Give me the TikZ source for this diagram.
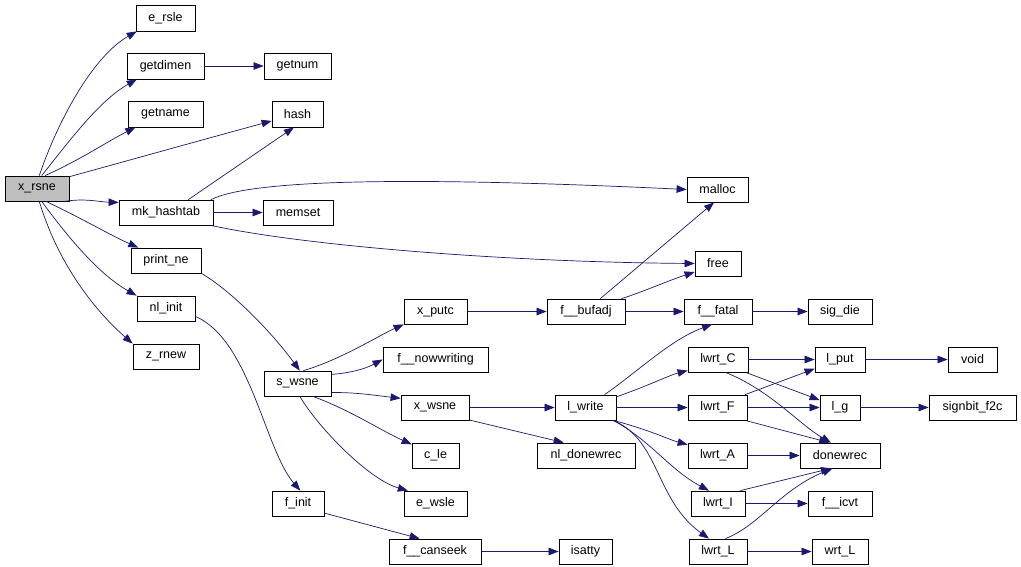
\documentclass[tikz,border=0pt]{standalone}
\usepackage{fontspec}
\setmainfont{Liberation Sans}
\usetikzlibrary{arrows.meta}
\definecolor{edgec}{RGB}{25,25,112}
\definecolor{rootfill}{RGB}{191,191,191}
\tikzset{
  box/.style={draw=black, line width=0.8pt, fill=white, inner sep=0pt, font=\fontsize{12.5}{14}\selectfont},
  e/.style={draw=edgec, line width=0.7pt, -{Triangle[length=10pt,width=7.5pt]}},
}
\newcommand\gnode[7][]{\node[box,#1,minimum width={#5-#3},minimum height={#6-#4}] (#2) at ({(#3+#5)/2},{(#4+#6)/2}) {#7};}
\begin{document}
\begin{tikzpicture}[x=1pt,y=-1pt]
\useasboundingbox (0,0) rectangle (1021,567);
\fill[white] (0,0) rectangle (1021,567);
\gnode[fill=rootfill]{x_rsne}{5}{176}{69}{201}{x\_rsne}
\gnode{e_rsle}{136}{5}{195}{31}{e\_rsle}
\gnode{getdimen}{127}{53}{204}{79}{getdimen}
\gnode{getnum}{264}{53}{331}{79}{getnum}
\gnode{getname}{128}{101}{203}{127}{getname}
\gnode{hash}{272}{101}{323}{127}{hash}
\gnode{mk_hashtab}{119}{200}{213}{225}{mk\_hashtab}
\gnode{memset}{263}{200}{333}{225}{memset}
\gnode{malloc}{687}{177}{748}{202}{malloc}
\gnode{free}{695}{251}{741}{276}{free}
\gnode{print_ne}{131}{248}{201}{273}{print\_ne}
\gnode{nl_init}{137}{296}{195}{321}{nl\_init}
\gnode{z_rnew}{133}{344}{199}{369}{z\_rnew}
\gnode{x_putc}{404}{299}{467}{324}{x\_putc}
\gnode{f__nowwriting}{383}{347}{488}{372}{f\_\_nowwriting}
\gnode{s_wsne}{264}{371}{331}{396}{s\_wsne}
\gnode{x_wsne}{401}{395}{469}{420}{x\_wsne}
\gnode{c_le}{412}{443}{459}{468}{c\_le}
\gnode{f_init}{272}{491}{324}{516}{f\_init}
\gnode{e_wsle}{404}{491}{467}{516}{e\_wsle}
\gnode{f__canseek}{389}{539}{481}{564}{f\_\_canseek}
\gnode{f__bufadj}{547}{299}{625}{324}{f\_\_bufadj}
\gnode{f__fatal}{684}{299}{752}{324}{f\_\_fatal}
\gnode{sig_die}{808}{299}{872}{324}{sig\_die}
\gnode{lwrt_C}{688}{347}{748}{372}{lwrt\_C}
\gnode{l_put}{815}{347}{865}{372}{l\_put}
\gnode{void}{948}{347}{997}{372}{void}
\gnode{l_write}{555}{395}{616}{420}{l\_write}
\gnode{lwrt_F}{688}{395}{747}{420}{lwrt\_F}
\gnode{l_g}{820}{395}{860}{420}{l\_g}
\gnode{signbit_f2c}{929}{395}{1016}{420}{signbit\_f2c}
\gnode{nl_donewrec}{537}{443}{635}{468}{nl\_donewrec}
\gnode{lwrt_A}{688}{443}{747}{468}{lwrt\_A}
\gnode{donewrec}{800}{443}{880}{468}{donewrec}
\gnode{lwrt_I}{691}{491}{745}{516}{lwrt\_I}
\gnode{f__icvt}{808}{491}{872}{516}{f\_\_icvt}
\gnode{isatty}{559}{539}{612}{564}{isatty}
\gnode{lwrt_L}{689}{539}{747}{564}{lwrt\_L}
\gnode{wrt_L}{812}{539}{868}{564}{wrt\_L}

% x_rsne fan
\draw[e] (x_rsne.80) .. controls (60,115) and (95,55) .. (e_rsle.205);
\draw[e] (x_rsne.70) .. controls (70,140) and (100,100) .. (getdimen.205);
\draw[e] (x_rsne.58) .. controls (80,160) and (110,140) .. (getname.204);
\draw[e] (x_rsne.20) .. controls (130,160) and (220,135) .. (hash.195);
\draw[e] (x_rsne.-25) .. controls (85,198) and (100,202) .. (mk_hashtab.168);
\draw[e] (x_rsne.-55) .. controls (85,220) and (110,235) .. (print_ne.155);
\draw[e] (x_rsne.-70) .. controls (70,240) and (100,275) .. (nl_init.north west);
\draw[e] (x_rsne.-80) .. controls (60,270) and (100,315) .. (z_rnew.north west);
\draw[e] (getdimen) -- (getnum);
% mk_hashtab
\draw[e] (mk_hashtab.30) -- (hash.-105);
\draw[e] (mk_hashtab.16) .. controls (250,180) and (400,176) .. (malloc.west);
\draw[e] (mk_hashtab) -- (memset);
\draw[e] (mk_hashtab.-16) .. controls (300,245) and (500,262) .. (free.west);
% print_ne, nl_init
\draw[e] (print_ne.-20) .. controls (230,290) and (270,330) .. (s_wsne.80);
\draw[e] (nl_init.-15) .. controls (250,340) and (265,450) .. (f_init.80);
% s_wsne
\draw[e] (s_wsne.65) .. controls (340,360) and (380,335) .. (x_putc.south west);
\draw[e] (s_wsne.15) .. controls (350,373) and (365,369) .. (f__nowwriting.west);
\draw[e] (s_wsne.-15) .. controls (355,392) and (380,396) .. (x_wsne.165);
\draw[e] (s_wsne.-40) .. controls (350,410) and (380,430) .. (c_le.155);
\draw[e] (s_wsne.-80) .. controls (320,430) and (370,480) .. (e_wsle.155);
% x_putc etc
\draw[e] (x_putc) -- (f__bufadj);
\draw[e] (f__bufadj.42) -- (malloc.-105);
\draw[e] (f__bufadj.20) .. controls (640,293) and (670,280) .. (free.200);
\draw[e] (f__bufadj) -- (f__fatal);
\draw[e] (f__fatal) -- (sig_die);
\draw[e] (x_wsne) -- (l_write);
\draw[e] (x_wsne.-20) -- (nl_donewrec.150);
% l_write
\draw[e] (l_write.34) .. controls (640,370) and (670,340) .. (f__fatal.-115);
\draw[e] (l_write.19) .. controls (650,385) and (670,375) .. (lwrt_C.200);
\draw[e] (l_write) -- (lwrt_F);
\draw[e] (l_write.-25) .. controls (650,430) and (670,440) .. (lwrt_A.160);
\draw[e] (l_write.-25) .. controls (650,440) and (670,470) .. (lwrt_I.125);
\draw[e] (l_write.-25) .. controls (660,440) and (655,500) .. (lwrt_L.125);
% lwrt_*
\draw[e] (lwrt_C) -- (l_put);
\draw[e] (lwrt_C.-25) -- (l_g.160);
\draw[e] (lwrt_C.-60) .. controls (770,390) and (800,425) .. (donewrec.125);
\draw[e] (lwrt_F.25) -- (l_put.-160);
\draw[e] (lwrt_F) -- (l_g);
\draw[e] (lwrt_F.-25) -- (donewrec.130);
\draw[e] (lwrt_A) -- (donewrec);
\draw[e] (lwrt_I.30) -- (donewrec.-125);
\draw[e] (lwrt_I) -- (f__icvt);
\draw[e] (lwrt_L.60) .. controls (760,525) and (780,490) .. (donewrec.-120);
\draw[e] (lwrt_L) -- (wrt_L);
\draw[e] (l_put) -- (void);
\draw[e] (l_g) -- (signbit_f2c);
\draw[e] (f_init.-20) -- (f__canseek.140);
\draw[e] (f__canseek) -- (isatty);
\end{tikzpicture}
\end{document}
